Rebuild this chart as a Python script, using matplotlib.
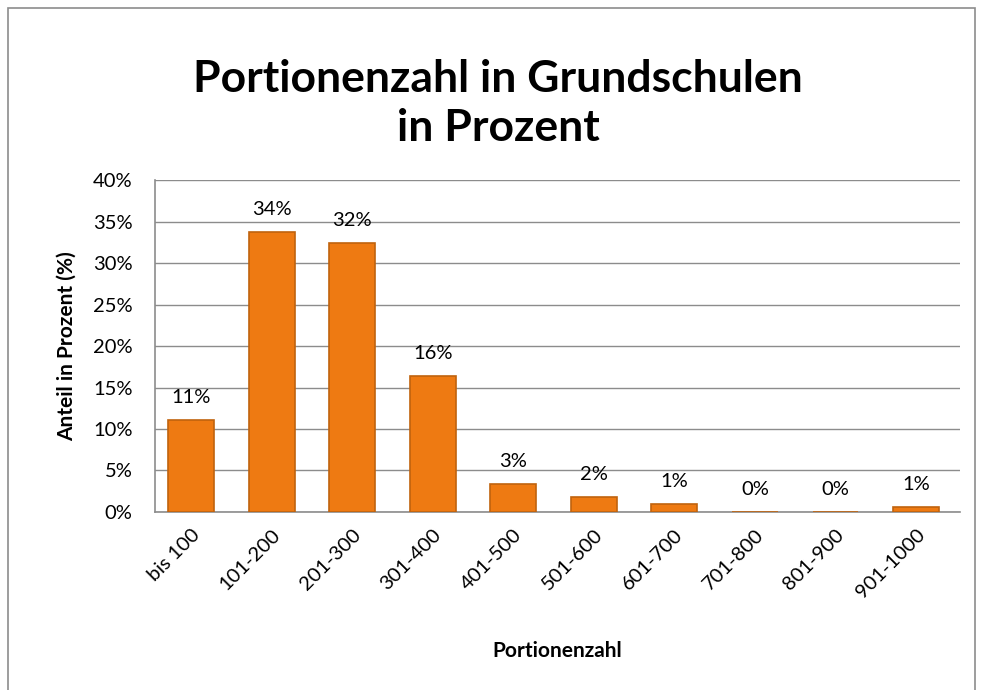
#!/usr/bin/env python

import matplotlib.pyplot as plt
from matplotlib.patches import Rectangle
from matplotlib.ticker import PercentFormatter

categories = ["bis 100", "101-200", "201-300", "301-400", "401-500",
              "501-600", "601-700", "701-800", "801-900", "901-1000"]
shares = [11.1, 33.8, 32.4, 16.4, 3.4, 1.8, 1.0, 0.0, 0.0, 0.6]

plt.rcParams["font.family"] = ["Lato", "DejaVu Sans"]


def main():

    fig = plt.figure(figsize=(9.86, 6.9), dpi=100)
    ax = fig.add_axes([0.157, 0.258, 0.817, 0.481])

    x = range(len(categories))
    ax.bar(x, shares, width=0.57, color="#ee7a12", edgecolor="#c0630e",
           linewidth=1.2, zorder=3)

    # value labels above the bars
    for xi, v in zip(x, shares):
        ax.annotate(f"{v:.0f}%", (xi, v), xytext=(0, 10), textcoords="offset points",
                    ha="center", va="bottom", fontsize=14.5)

    ax.set_ylim(0, 40)
    ax.set_xlim(-0.45, len(categories) - 0.45)
    ax.set_yticks(range(0, 41, 5))
    ax.yaxis.set_major_formatter(PercentFormatter(decimals=0))
    ax.grid(axis="y", color="#8c8c8c", linewidth=1, zorder=0)

    ax.set_xticks(list(x))
    ax.set_xticklabels(categories, rotation=45, ha="right", rotation_mode="anchor")
    ax.tick_params(axis="both", labelsize=14.5, length=0)
    ax.tick_params(axis="y", pad=16)
    ax.tick_params(axis="x", pad=10)

    for side in ("top", "right"):
        ax.spines[side].set_visible(False)
    for side in ("left", "bottom"):
        ax.spines[side].set_color("#8c8c8c")
        ax.spines[side].set_linewidth(1.2)

    ax.set_xlabel("Portionenzahl", fontsize=15, fontweight="bold", labelpad=29)
    ax.set_ylabel("Anteil in Prozent (%)", fontsize=15, fontweight="bold", labelpad=12)

    fig.text(0.505, 0.85, "Portionenzahl in Grundschulen\nin Prozent", ha="center",
             va="center", fontsize=32, fontweight="bold", linespacing=1.25)

    # outer chart border
    fig.patches.append(Rectangle((0.008, -0.02), 0.981, 1.008, transform=fig.transFigure,
                                 fill=False, edgecolor="#8c8c8c", linewidth=1.2))

    fig.savefig("out.png", dpi=100)


if __name__ == "__main__":
    main()
